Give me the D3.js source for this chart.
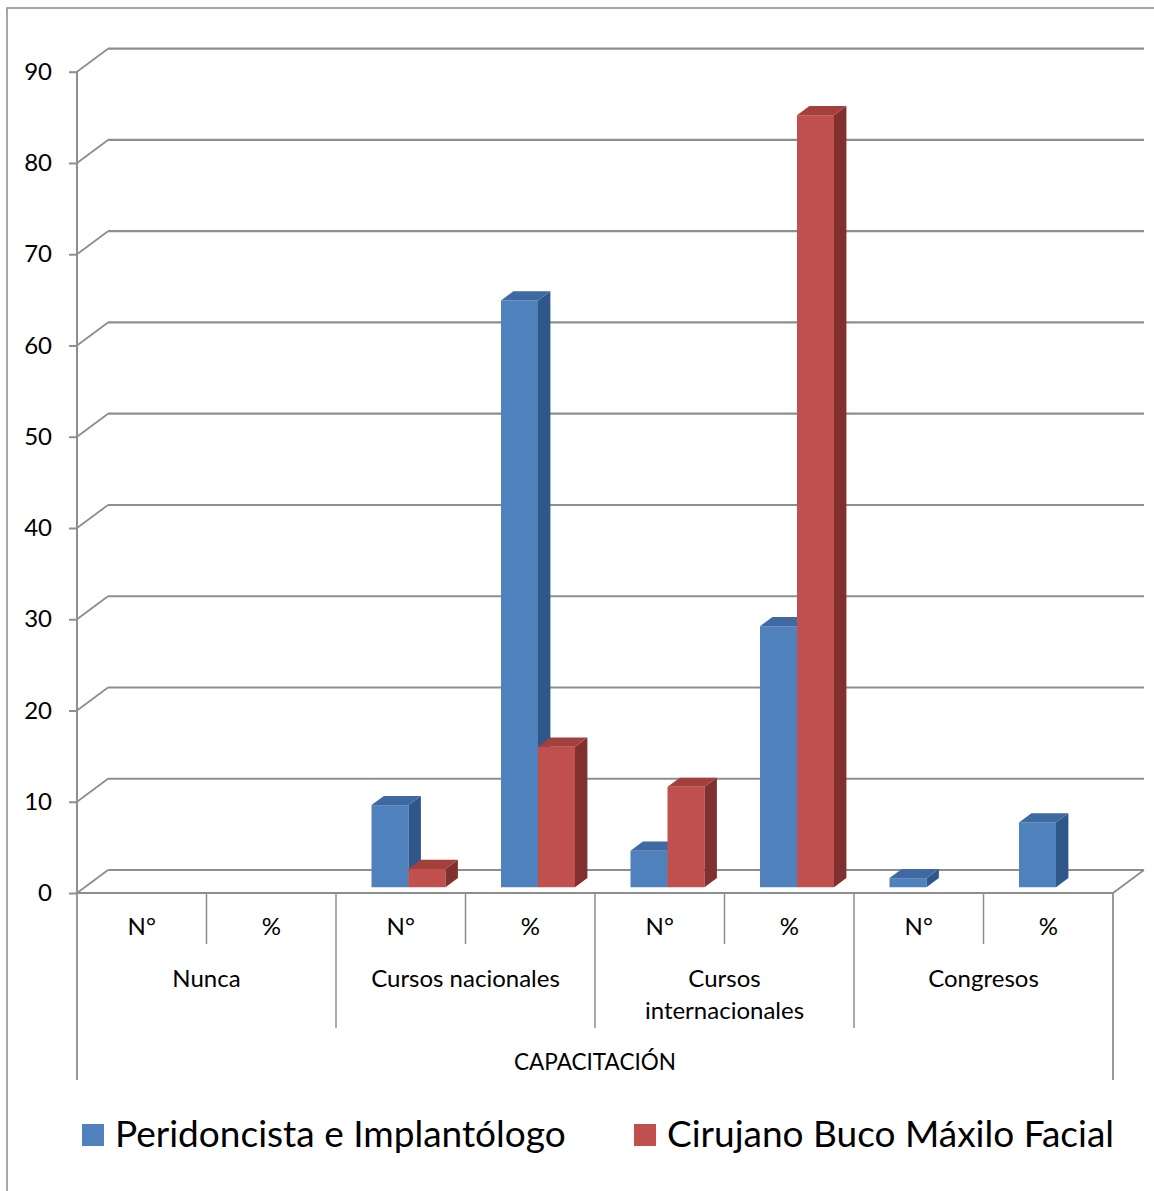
<!DOCTYPE html>
<html>
<head>
<meta charset="utf-8">
<script src="https://cdn.jsdelivr.net/npm/d3@7"></script>
<style>
  html, body { margin: 0; padding: 0; background: #fff; }
  svg { display: block; font-family: Lato, "Open Sans", sans-serif; }
</style>
</head>
<body>
<svg id="chart" width="1154" height="1191"></svg>
<script>
// Training received, by type (N° = count, % = share)
const groups = ["Nunca", "Cursos nacionales", "Cursos internacionales", "Congresos"];
const measures = ["N°", "%"];
const seriesNames = ["Peridoncista e Implantólogo", "Cirujano Buco Máxilo Facial"];
const periodoncista = [0, 0, 9, 64.3, 4, 28.6, 1, 7.1];
const cirujano = [0, 0, 2, 15.4, 11, 84.6, 0, 0];
const yTicks = [0, 10, 20, 30, 40, 50, 60, 70, 80, 90];
const axisTitle = "CAPACITACIÓN";

const seriesValues = [periodoncista, cirujano];
const colors = [
  { front: "#4f81bd", top: "#3e69a1", side: "#30578a" },
  { front: "#c0504d", top: "#a3403d", side: "#80302e" }
];

const svg = d3.select("#chart");

// outer chart frame
svg.append("rect")
  .attr("x", 7).attr("y", 8).attr("width", 1160).attr("height", 1200)
  .attr("fill", "none").attr("stroke", "#8a8a8a").attr("stroke-width", 1.5);

// plot geometry
const left = 77, right = 1113;
const depth = { dx: 31, dy: -23 };
const y = d3.scaleLinear().domain([0, 90]).range([893, 71.7]);

const slots = groups.flatMap(g => measures.map(m => g + "|" + m));
const x = d3.scaleBand().domain(slots).range([left, right]).padding(0);
const groupX = d3.scaleBand().domain(groups).range([left, right]).padding(0);

const gridColor = "#8e8e8e";
const grid = svg.append("g").attr("stroke", gridColor).attr("fill", "none");

// back wall grid lines and left wall diagonals
yTicks.forEach(v => {
  grid.append("line")
    .attr("x1", left + depth.dx).attr("x2", right + depth.dx)
    .attr("y1", y(v) + depth.dy).attr("y2", y(v) + depth.dy)
    .attr("stroke-width", 2.2);
  grid.append("line")
    .attr("x1", left).attr("y1", y(v))
    .attr("x2", left + depth.dx).attr("y2", y(v) + depth.dy)
    .attr("stroke-width", 1.8);
});

// floor: front edge and right diagonal
grid.append("line")
  .attr("x1", left).attr("x2", right).attr("y1", y(0)).attr("y2", y(0))
  .attr("stroke-width", 2);
grid.append("line")
  .attr("x1", right).attr("y1", y(0))
  .attr("x2", right + depth.dx).attr("y2", y(0) + depth.dy)
  .attr("stroke-width", 1.8);

// value axis on the front edge
const yAxis = d3.axisLeft(y).tickValues(yTicks).tickSize(8).tickPadding(17);
const ax = svg.append("g").attr("transform", `translate(${left},0)`).call(yAxis);
ax.select(".domain").attr("stroke", gridColor).attr("stroke-width", 2).attr("d", `M0,${y(90)}V${y(0)}`);
ax.selectAll(".tick line").attr("stroke", gridColor).attr("stroke-width", 2);
ax.selectAll(".tick text").attr("font-size", 24).attr("fill", "#000")
  .attr("font-family", "Lato, sans-serif");

// 3D columns
const f0 = 0.25, f1 = 0.65;
const barW = 37;
const ddx = depth.dx * (f1 - f0), ddy = depth.dy * (f1 - f0);
const bars = svg.append("g");

slots.forEach((slot, i) => {
  const cx = x(slot) + x.bandwidth() / 2 + depth.dx * f0;
  seriesValues.forEach((vals, s) => {
    const v = vals[i];
    if (!v) return;
    const x0 = cx - barW + s * barW;
    const yb = y(0) + depth.dy * f0;
    const yt = y(v) + depth.dy * f0;
    const c = colors[s];
    bars.append("rect")
      .attr("x", x0).attr("y", yt).attr("width", barW).attr("height", yb - yt)
      .attr("fill", c.front);
    bars.append("polygon")
      .attr("points", [[x0 + barW, yt], [x0 + barW + ddx, yt + ddy], [x0 + barW + ddx, yb + ddy], [x0 + barW, yb]].join(" "))
      .attr("fill", c.side);
    bars.append("polygon")
      .attr("points", [[x0, yt], [x0 + ddx, yt + ddy], [x0 + barW + ddx, yt + ddy], [x0 + barW, yt]].join(" "))
      .attr("fill", c.top);
  });
});

// category axis: multi-level dividers
const cat = svg.append("g");
const y0 = y(0);
x.domain().forEach((slot, i) => {
  if (i === 0) return;
  const isGroup = i % 2 === 0;
  cat.append("line")
    .attr("x1", x(slot)).attr("x2", x(slot))
    .attr("y1", y0).attr("y2", isGroup ? 1028 : 944)
    .attr("stroke", gridColor).attr("stroke-width", 1.5);
});
[left, right].forEach(xx => {
  cat.append("line")
    .attr("x1", xx).attr("x2", xx).attr("y1", y0).attr("y2", 1080)
    .attr("stroke", gridColor).attr("stroke-width", 1.8);
});

// sub-category labels
slots.forEach(slot => {
  cat.append("text")
    .attr("x", x(slot) + x.bandwidth() / 2).attr("y", 935)
    .attr("text-anchor", "middle").attr("font-size", 24).attr("fill", "#000")
    .text(slot.split("|")[1]);
});

// group labels (wrap the long one)
groups.forEach(g => {
  const cx = groupX(g) + groupX.bandwidth() / 2;
  const lines = g === "Cursos internacionales" ? ["Cursos", "internacionales"] : [g];
  lines.forEach((t, k) => {
    cat.append("text")
      .attr("x", cx).attr("y", 987 + k * 32)
      .attr("text-anchor", "middle").attr("font-size", 24).attr("fill", "#000")
      .text(t);
  });
});

cat.append("text")
  .attr("x", (left + right) / 2).attr("y", 1070)
  .attr("text-anchor", "middle").attr("font-size", 22.5).attr("fill", "#000")
  .text(axisTitle);

// legend
const legend = svg.append("g");
const legendX = [82, 634];
seriesNames.forEach((name, s) => {
  legend.append("rect")
    .attr("x", legendX[s]).attr("y", 1124).attr("width", 22).attr("height", 22)
    .attr("fill", colors[s].front);
  legend.append("text")
    .attr("x", legendX[s] + 33).attr("y", 1147)
    .attr("font-size", 37).attr("fill", "#000")
    .text(name);
});
</script>
</body>
</html>
